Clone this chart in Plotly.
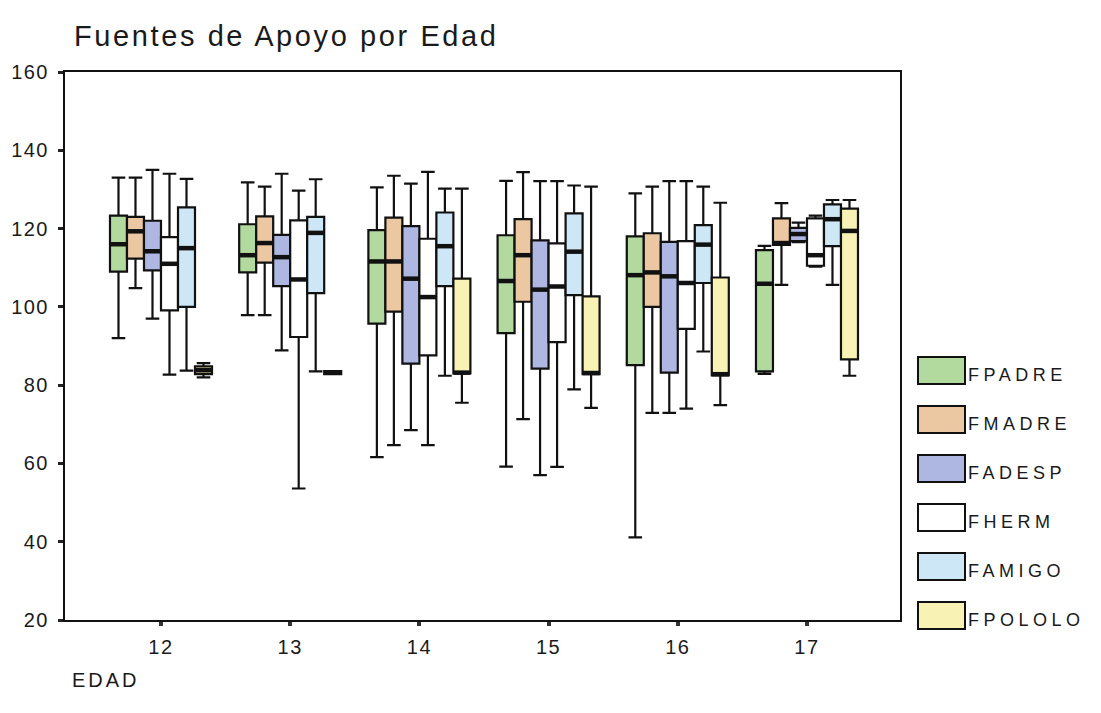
import plotly.graph_objects as go

# Age groups and support-source series
ages = [12, 13, 14, 15, 16, 17]
series = ["FPADRE", "FMADRE", "FADESP", "FHERM", "FAMIGO", "FPOLOLO"]
colors = ["#b2da9f", "#ecc8a2", "#aeb7e2", "#ffffff", "#cde7f7", "#f8f3b4"]

# Box statistics per series, one value per age group
fpadre_low = [92.0, 97.9, 61.6, 59.2, 41.1, 82.9]
fpadre_q1 = [109.0, 108.8, 95.7, 93.3, 85.1, 83.5]
fpadre_med = [116.0, 113.2, 111.6, 106.6, 108.1, 105.9]
fpadre_q3 = [123.3, 121.1, 119.6, 118.3, 118.0, 114.5]
fpadre_high = [133.0, 131.8, 130.5, 132.2, 129.0, 115.6]

fmadre_low = [104.8, 97.9, 64.7, 71.3, 72.9, 105.6]
fmadre_q1 = [112.3, 111.3, 98.8, 101.3, 100.0, 115.8]
fmadre_med = [119.3, 116.3, 111.6, 113.2, 108.8, 116.3]
fmadre_q3 = [123.0, 123.1, 122.8, 122.4, 118.8, 122.6]
fmadre_high = [133.0, 130.7, 133.5, 134.4, 130.7, 126.5]

fadesp_low = [97.0, 88.9, 68.5, 57.0, 72.9, 116.5]
fadesp_q1 = [109.3, 105.3, 85.5, 84.2, 83.2, 116.8]
fadesp_med = [114.2, 112.7, 107.2, 104.4, 107.8, 118.6]
fadesp_q3 = [122.0, 118.4, 120.6, 117.0, 116.6, 120.2]
fadesp_high = [135.0, 134.0, 131.5, 132.1, 132.1, 121.5]

fherm_low = [82.7, 53.6, 64.7, 59.1, 74.0, 110.3]
fherm_q1 = [99.1, 92.3, 87.6, 91.0, 94.4, 110.5]
fherm_med = [111.0, 107.0, 102.5, 105.2, 106.1, 113.2]
fherm_q3 = [117.8, 122.1, 117.4, 116.2, 116.8, 122.6]
fherm_high = [134.0, 129.7, 134.5, 132.1, 132.1, 123.3]

famigo_low = [83.7, 83.5, 82.4, 78.9, 88.6, 105.6]
famigo_q1 = [100.0, 103.5, 105.3, 103.0, 106.1, 115.5]
famigo_med = [115.0, 118.9, 115.5, 114.1, 115.9, 122.4]
famigo_q3 = [125.4, 123.0, 124.1, 123.9, 120.9, 126.2]
famigo_high = [132.7, 132.6, 130.2, 131.0, 130.7, 127.3]

fpololo_low = [82.0, 82.8, 75.5, 74.2, 74.9, 82.4]
fpololo_q1 = [82.8, 82.8, 83.0, 82.8, 82.5, 86.6]
fpololo_med = [83.8, 83.2, 83.2, 83.1, 82.8, 119.4]
fpololo_q3 = [84.8, 83.6, 107.2, 102.7, 107.5, 125.1]
fpololo_high = [85.6, 83.6, 130.2, 130.7, 126.6, 127.3]

stats = {
    "FPADRE": (fpadre_low, fpadre_q1, fpadre_med, fpadre_q3, fpadre_high),
    "FMADRE": (fmadre_low, fmadre_q1, fmadre_med, fmadre_q3, fmadre_high),
    "FADESP": (fadesp_low, fadesp_q1, fadesp_med, fadesp_q3, fadesp_high),
    "FHERM": (fherm_low, fherm_q1, fherm_med, fherm_q3, fherm_high),
    "FAMIGO": (famigo_low, famigo_q1, famigo_med, famigo_q3, famigo_high),
    "FPOLOLO": (fpololo_low, fpololo_q1, fpololo_med, fpololo_q3, fpololo_high),
}

FONT = "Liberation Sans, Arial, sans-serif"
INK = "#1a1a1a"
BOX_W = 0.1316          # width of one box in axis units
n = len(series)

fig = go.Figure()

for i, name in enumerate(series):
    low, q1, med, q3, high = stats[name]
    offset = (i - (n - 1) / 2) * BOX_W
    xs = [a + offset for a in ages]
    fig.add_trace(go.Box(
        x=xs, lowerfence=low, q1=q1, median=med, q3=q3, upperfence=high,
        width=BOX_W, whiskerwidth=0.8,
        fillcolor=colors[i], line=dict(color="#111111", width=2.2),
        name=name, showlegend=False, hoverinfo="skip",
    ))
    # heavier median bar drawn on top of each box
    mx, my = [], []
    for x, m in zip(xs, med):
        mx += [x - BOX_W / 2, x + BOX_W / 2, None]
        my += [m, m, None]
    fig.add_trace(go.Scatter(
        x=mx, y=my, mode="lines", line=dict(color="#111111", width=4.5),
        showlegend=False, hoverinfo="skip",
    ))

# plot area in pixels
L, R, T, B = 65, 900, 72, 620
W, H = 1101, 713


def px_x(p):
    return (p - L) / (R - L)


def px_y(p):
    return (B - p) / (B - T)


shapes = []
annotations = []

# legend: swatch plus label for each series
for i, name in enumerate(series):
    top = 357 + i * 49
    shapes.append(dict(
        type="rect", xref="paper", yref="paper",
        x0=px_x(918), x1=px_x(965), y0=px_y(top + 27), y1=px_y(top),
        fillcolor=colors[i], line=dict(color="#111111", width=2),
    ))
    annotations.append(dict(
        xref="paper", yref="paper", x=px_x(966), y=px_y(top + 18),
        xanchor="left", yanchor="middle", align="left", text=name,
        showarrow=False, font=dict(family=FONT, size=18, color=INK),
    ))

# axis title at the lower left
annotations.append(dict(
    xref="paper", yref="paper", x=px_x(70), y=px_y(680),
    xanchor="left", yanchor="middle", align="left", text="EDAD",
    showarrow=False, font=dict(family=FONT, size=20, color=INK),
))

fig.update_layout(
    width=W, height=H,
    margin=dict(l=L, r=W - R, t=T, b=H - B),
    paper_bgcolor="white", plot_bgcolor="white",
    boxmode="overlay",
    title=dict(
        text="Fuentes de Apoyo por Edad", x=74 / W, xanchor="left",
        y=1 - 36 / H, yanchor="middle",
        font=dict(family=FONT, size=29, color=INK),
    ),
    xaxis=dict(
        range=[11.257, 17.72], tickvals=ages, ticktext=[str(a) for a in ages],
        showgrid=False, zeroline=False,
        showline=True, linecolor="#111111", linewidth=2, mirror=True,
        ticks="outside", ticklen=4, tickwidth=4, tickcolor="#333333",
        ticklabelstandoff=4,
        tickfont=dict(family=FONT, size=20, color=INK),
    ),
    yaxis=dict(
        range=[20, 160], tickvals=[20, 40, 60, 80, 100, 120, 140, 160],
        showgrid=False, zeroline=False,
        showline=True, linecolor="#111111", linewidth=2, mirror=True,
        ticks="outside", ticklen=5, tickwidth=3, tickcolor="#222222",
        ticklabelstandoff=5,
        tickfont=dict(family=FONT, size=20, color=INK),
    ),
    shapes=shapes,
    annotations=annotations,
)

# widen the letter spacing of the title, the free text labels and tick labels
spacing_js = """
function spaceOut() {
  document.querySelectorAll('.gtitle').forEach(function (e) { e.style.letterSpacing = '2.6px'; });
  document.querySelectorAll('.annotation-text').forEach(function (e) {
    e.style.letterSpacing = (e.textContent === 'EDAD') ? '3px' : '4.5px';
  });
  document.querySelectorAll('.xtick text, .ytick text').forEach(function (e) { e.style.letterSpacing = '1.5px'; });
}
spaceOut();
var gd = document.getElementById('{plot_id}');
if (gd && gd.on) { gd.on('plotly_afterplot', spaceOut); }
"""

fig.write_html("out.html", post_script=spacing_js)
